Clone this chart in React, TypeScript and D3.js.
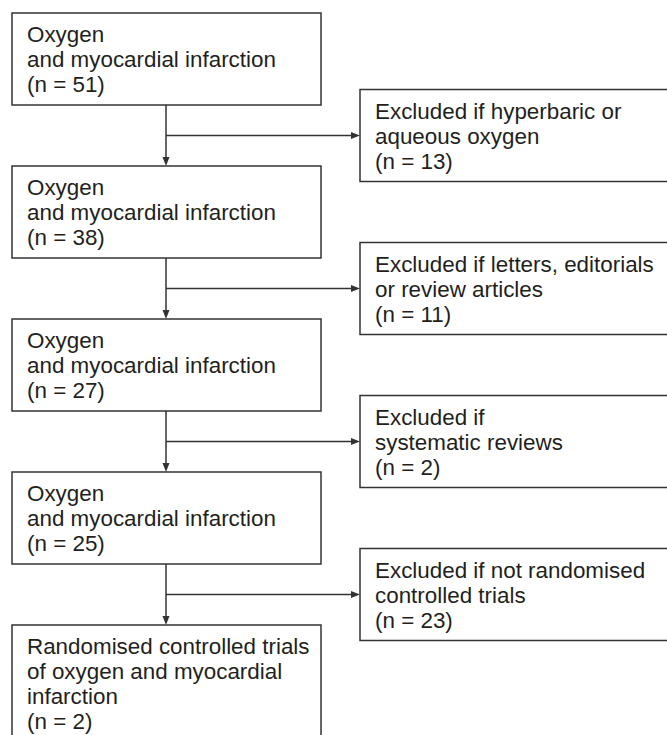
import { useEffect, useRef } from "react";
import * as d3 from "d3";

// ── Data ──────────────────────────────────────────────────────────────────────

const mainLabels: string[][] = [
  ["Oxygen", "and myocardial infarction"],
  ["Oxygen", "and myocardial infarction"],
  ["Oxygen", "and myocardial infarction"],
  ["Oxygen", "and myocardial infarction"],
  ["Randomised controlled trials", "of oxygen and myocardial", "infarction"],
];
const mainCounts = [51, 38, 27, 25, 2];

const excludedLabels: string[][] = [
  ["Excluded if hyperbaric or", "aqueous oxygen"],
  ["Excluded if letters, editorials", "or review articles"],
  ["Excluded if", "systematic reviews"],
  ["Excluded if not randomised", "controlled trials"],
];
const excludedCounts = [13, 11, 2, 23];

const W = 667;
const H = 735;
const INK = "#231f20";
const LINE = "#333333";
const FONT = "'Liberation Sans', Arial, Helvetica, sans-serif";

export default function App() {
  const svgRef = useRef<SVGSVGElement>(null);

  useEffect(() => {
    if (!svgRef.current) return;
    const svg = d3.select(svgRef.current);
    svg.selectAll("*").remove();

    const lineH = 25;
    const padTop = 29;
    const boxH = (n: number) => 17 + n * lineH;

    // step index → box top
    const y = d3.scaleLinear().domain([0, mainLabels.length - 1]).range([13, 625]);
    const mainX = 12;
    const mainW = 309;
    const exX = 360;
    const exW = 330; // runs past the right edge
    const cx = 166;

    const mainLines = mainLabels.map((l, i) => [...l, `(n = ${mainCounts[i]})`]);
    const exLines = excludedLabels.map((l, i) => [...l, `(n = ${excludedCounts[i]})`]);

    const drawBox = (x: number, top: number, w: number, lines: string[]) => {
      svg.append("rect")
        .attr("x", x).attr("y", top)
        .attr("width", w).attr("height", boxH(lines.length))
        .attr("fill", "#fff")
        .attr("stroke", LINE).attr("stroke-width", 1.5);
      const t = svg.append("text")
        .attr("font-family", FONT).attr("font-size", 22.4)
        .attr("fill", INK);
      lines.forEach((s, k) => {
        t.append("tspan")
          .attr("x", x + 15)
          .attr("y", top + padTop + k * lineH)
          .text(s);
      });
    };

    const arrowHead = (tx: number, ty: number, dir: "down" | "right") => {
      const p = d3.path();
      if (dir === "down") {
        p.moveTo(tx, ty);
        p.lineTo(tx - 3.5, ty - 9);
        p.lineTo(tx + 3.5, ty - 9);
      } else {
        p.moveTo(tx, ty);
        p.lineTo(tx - 9, ty - 3.5);
        p.lineTo(tx - 9, ty + 3.5);
      }
      p.closePath();
      svg.append("path").attr("d", p.toString()).attr("fill", LINE);
    };

    // connectors + excluded boxes
    for (let i = 0; i < mainLines.length - 1; i++) {
      const bottom = y(i) + boxH(mainLines[i].length);
      const nextTop = y(i + 1);
      const by = (bottom + nextTop) / 2;

      svg.append("line")
        .attr("x1", cx).attr("x2", cx)
        .attr("y1", bottom).attr("y2", nextTop - 6)
        .attr("stroke", LINE).attr("stroke-width", 1.5);
      arrowHead(cx, nextTop, "down");

      svg.append("line")
        .attr("x1", cx).attr("x2", exX - 6)
        .attr("y1", by).attr("y2", by)
        .attr("stroke", LINE).attr("stroke-width", 1.5);
      arrowHead(exX, by, "right");

      const eh = boxH(exLines[i].length);
      drawBox(exX, by - eh / 2, exW, exLines[i]);
    }

    mainLines.forEach((lines, i) => drawBox(mainX, y(i), mainW, lines));
  }, []);

  return (
    <svg
      ref={svgRef}
      width={W}
      height={H}
      style={{ position: "absolute", left: 0, top: 0, background: "#fff" }}
    />
  );
}
